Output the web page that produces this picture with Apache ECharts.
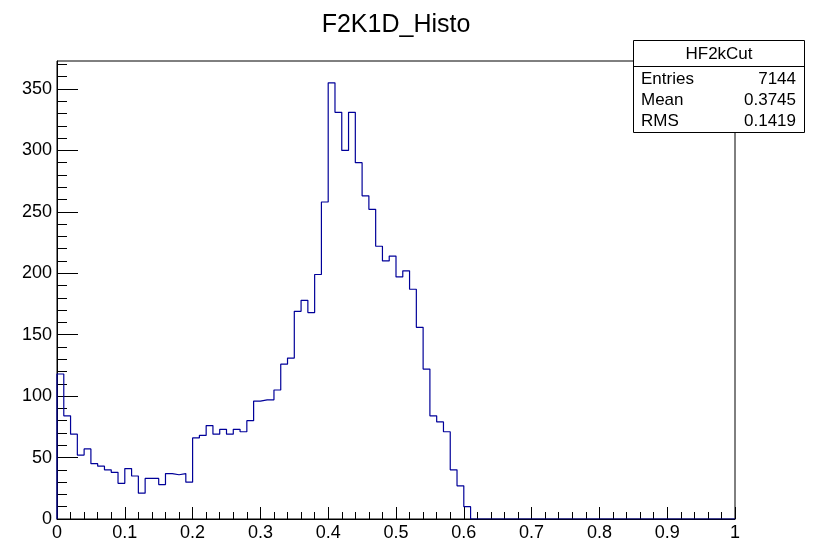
<!DOCTYPE html>
<html>
<head>
<meta charset="utf-8">
<script src="https://cdn.jsdelivr.net/npm/echarts@6/dist/echarts.min.js"></script>
<style>
  html, body { margin: 0; padding: 0; background: #fff; }
  #chart { width: 814px; height: 542px; }
</style>
</head>
<body>
<div id="chart"></div>
<script>
// Histogram F2K1D_Histo: 100 bins of width 0.01 on [0, 1]
const histTitle = 'F2K1D_Histo';
const binLow = 0;
const binWidth = 0.01;
const binCounts = [
  118, 84, 69, 52, 57, 45, 43, 40, 38, 29,
  41, 35, 21, 33, 33, 28, 37, 36, 37, 30,
  66, 68, 76, 69, 73, 69, 73, 71, 80, 96,
  97, 97, 105, 126, 131, 169, 178, 168, 199, 258,
  355, 331, 300, 331, 290, 263, 252, 222, 210, 214,
  197, 202, 187, 156, 122, 84, 79, 71, 40, 27,
  10, 0, 0, 0, 0, 0, 0, 0, 0, 0,
  0, 0, 0, 0, 0, 0, 0, 0, 0, 0,
  0, 0, 0, 0, 0, 0, 0, 0, 0, 0,
  0, 0, 0, 0, 0, 0, 0, 0, 0, 0
];

// Axis ticks
const xMajorTicks = [0, 0.1, 0.2, 0.3, 0.4, 0.5, 0.6, 0.7, 0.8, 0.9, 1];
const yMajorTicks = [0, 50, 100, 150, 200, 250, 300, 350];
const yMinorTicks = [0, 10, 20, 30, 40, 50, 60, 70, 80, 90, 100, 110, 120, 130, 140,
  150, 160, 170, 180, 190, 200, 210, 220, 230, 240, 250, 260, 270, 280, 290, 300,
  310, 320, 330, 340, 350, 360, 370];
const yMax = 372.75;

// Statistics box
const statsName = 'HF2kCut';
const statsLabels = ['Entries', 'Mean', 'RMS'];
const statsValues = ['7144', '0.3745', '0.1419'];

// Build the step outline: start at the baseline, then each bin's lower edge
const outline = [[binLow, 0]];
binCounts.forEach((c, i) => outline.push([binLow + i * binWidth, c]));
outline.push([binLow + binCounts.length * binWidth, 0]);

const FONT = '"Liberation Sans", Arial, Helvetica, sans-serif';
const chart = echarts.init(document.getElementById('chart'), null, { renderer: 'canvas' });

const statsGraphics = [];
const bx = 633.5, by = 40.5, bw = 171, bh = 92;
statsGraphics.push({
  type: 'rect', z: 100,
  shape: { x: bx, y: by, width: bw, height: bh },
  style: { fill: '#fff', stroke: '#000', lineWidth: 1 }
});
statsGraphics.push({
  type: 'line', z: 101,
  shape: { x1: bx, y1: 66.5, x2: bx + bw, y2: 66.5 },
  style: { stroke: '#000', lineWidth: 1 }
});
statsGraphics.push({
  type: 'text', z: 101, x: bx + bw / 2, y: 54,
  style: { text: statsName, font: '17px ' + FONT, fill: '#000', align: 'center', verticalAlign: 'middle' }
});
statsLabels.forEach((lab, i) => {
  const ty = 79 + i * 21;
  statsGraphics.push({
    type: 'text', z: 101, x: 641, y: ty,
    style: { text: lab, font: '17px ' + FONT, fill: '#000', align: 'left', verticalAlign: 'middle' }
  });
  statsGraphics.push({
    type: 'text', z: 101, x: 796, y: ty,
    style: { text: statsValues[i], font: '17px ' + FONT, fill: '#000', align: 'right', verticalAlign: 'middle' }
  });
});

const option = {
  animation: false,
  backgroundColor: '#fff',
  grid: {
    left: 57, right: 79, top: 61, bottom: 20,
    show: true, borderColor: '#000', borderWidth: 1, backgroundColor: 'transparent'
  },
  xAxis: [{
    type: 'value', min: 0, max: 1, interval: 0.1,
    axisLine: { lineStyle: { color: '#000', width: 1 } },
    axisTick: { inside: true, length: 12, lineStyle: { color: '#000' }, customValues: xMajorTicks },
    minorTick: { show: true, splitNumber: 5, length: 7, lineStyle: { color: '#000' } },
    axisLabel: { customValues: xMajorTicks, color: '#000', fontFamily: FONT, fontSize: 18, margin: 5 },
    splitLine: { show: false }
  }],
  yAxis: [{
    type: 'value', min: 0, max: yMax,
    axisLine: { show: true, lineStyle: { color: '#000', width: 1 } },
    axisTick: { show: true, inside: true, length: 21, lineStyle: { color: '#000' }, customValues: yMajorTicks },
    axisLabel: { customValues: yMajorTicks, color: '#000', fontFamily: FONT, fontSize: 18, margin: 5 },
    splitLine: { show: false }
  }, {
    type: 'value', min: 0, max: yMax, position: 'left',
    axisLine: { show: false },
    axisTick: { show: true, inside: true, length: 10, lineStyle: { color: '#000' }, customValues: yMinorTicks },
    axisLabel: { show: false },
    splitLine: { show: false }
  }],
  series: [{
    type: 'line',
    xAxisIndex: 0, yAxisIndex: 0,
    step: 'end',
    data: outline,
    symbol: 'none',
    lineStyle: { color: '#000099', width: 1.2 },
    z: 5
  }],
  graphic: [{
    type: 'text', x: 396, y: 25,
    style: { text: histTitle, font: '25px ' + FONT, fill: '#000', align: 'center', verticalAlign: 'middle' }
  }].concat(statsGraphics)
};

chart.setOption(option);
</script>
</body>
</html>
